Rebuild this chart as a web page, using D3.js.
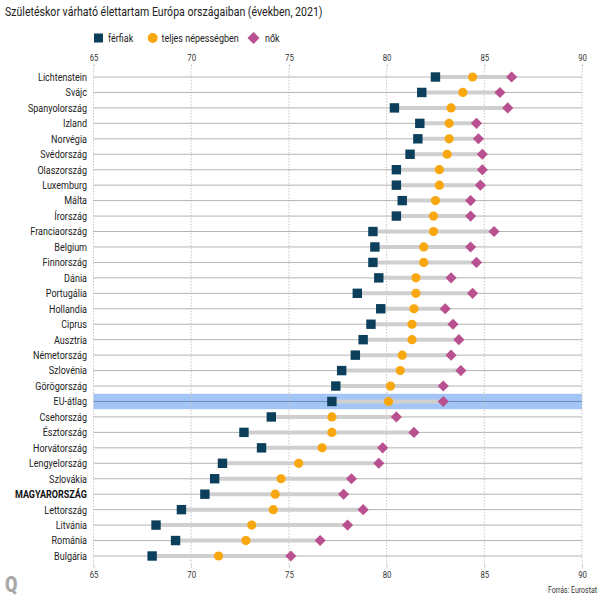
<!DOCTYPE html>
<html><head><meta charset="utf-8">
<script src="https://cdn.jsdelivr.net/npm/d3@7"></script>
<style>body{margin:0;background:#fff} text{font-family:Roboto,"Noto Sans",sans-serif}</style>
</head><body>
<svg id="c" width="600" height="600"></svg>
<script>
const countries = ["Lichtenstein","Svájc","Spanyolország","Izland","Norvégia","Svédország","Olaszország","Luxemburg","Málta","Írország","Franciaország","Belgium","Finnország","Dánia","Portugália","Hollandia","Ciprus","Ausztria","Németország","Szlovénia","Görögország","EU-átlag","Csehország","Észtország","Horvátország","Lengyelország","Szlovákia","MAGYARORSZÁG","Lettország","Litvánia","Románia","Bulgária"];
const men   = [82.5,81.8,80.4,81.7,81.6,81.2,80.5,80.5,80.8,80.5,79.3,79.4,79.3,79.6,78.5,79.7,79.2,78.8,78.4,77.7,77.4,77.2,74.1,72.7,73.6,71.6,71.2,70.7,69.5,68.2,69.2,68.0];
const total = [84.4,83.9,83.3,83.2,83.2,83.1,82.7,82.7,82.5,82.4,82.4,81.9,81.9,81.5,81.5,81.4,81.3,81.3,80.8,80.7,80.2,80.1,77.2,77.2,76.7,75.5,74.6,74.3,74.2,73.1,72.8,71.4];
const women = [86.4,85.8,86.2,84.6,84.7,84.9,84.9,84.8,84.3,84.3,85.5,84.3,84.6,83.3,84.4,83.0,83.4,83.7,83.3,83.8,82.9,82.9,80.5,81.4,79.8,79.6,78.2,77.8,78.8,78.0,76.6,75.1];
const xTicks = [65,70,75,80,85,90];
const seriesNames = ["férfiak","teljes népességben","nők"];
const title = "Születéskor várható élettartam Európa országaiban (években, 2021)";
const source = "Forrás: Eurostat";
const euLabel = "EU-átlag";
const boldLabel = "MAGYARORSZÁG";

const C_MEN = "#0b3f5c", C_TOT = "#f9a70f", C_WOM = "#b9508f";
const SX = 0.82;
const svg = d3.select("#c");
const x = d3.scaleLinear().domain([65,90]).range([93.5,582]);
const y = d3.scalePoint().domain(countries).range([77,556]);
const step = y.step();

function ctext(g, str, px, py, size, anchor, opts={}) {
  const t = g.append("g").attr("transform",`translate(${px},${py}) scale(${SX},1)`)
    .append("text").attr("text-anchor",anchor).attr("font-size",size)
    .attr("fill",opts.fill||"#222").attr("font-weight",opts.weight||400).text(str);
  if (opts.dy) t.attr("dy",opts.dy);
  return t;
}

// title
ctext(svg, title, 5, 16, 12.9, "start", {fill:"#222"});

// legend
const lg = svg.append("g");
lg.append("rect").attr("x",94).attr("y",33.5).attr("width",9).attr("height",9).attr("fill",C_MEN);
ctext(lg, seriesNames[0], 108, 38, 11, "start", {dy:"0.35em"});
lg.append("circle").attr("cx",152.7).attr("cy",38).attr("r",5).attr("fill",C_TOT);
ctext(lg, seriesNames[1], 161.5, 38, 11, "start", {dy:"0.35em"});
lg.append("path").attr("d",d3.symbol(d3.symbolSquare,72)()).attr("transform","translate(253.5,38) rotate(45)").attr("fill",C_WOM);
ctext(lg, seriesNames[2], 265, 38, 11, "start", {dy:"0.35em"});

// EU band
svg.append("rect").attr("x",x(65)).attr("width",x(90)-x(65))
  .attr("y",y(euLabel)-step/2).attr("height",step).attr("fill","#a3c5f6");

// grid
const grid = svg.append("g");
xTicks.forEach(v=>{
  grid.append("line").attr("x1",x(v)).attr("x2",x(v)).attr("y1",68).attr("y2",566)
    .attr("stroke","#c8c8c8").attr("stroke-width",1).attr("stroke-dasharray","1.5,1.5");
});

// axes
const axT = svg.append("g").attr("transform","translate(0,67)")
  .call(d3.axisTop(x).tickValues(xTicks).tickSize(3).tickPadding(3));
const axB = svg.append("g").attr("transform","translate(0,565)")
  .call(d3.axisBottom(x).tickValues(xTicks).tickSize(3).tickPadding(3));
[axT,axB].forEach(a=>{
  a.select(".domain").remove();
  a.selectAll(".tick line").attr("stroke","#ccc");
  a.selectAll(".tick text").attr("font-size",9.5).attr("fill","#333")
    .attr("font-family","Roboto,sans-serif")
    .attr("transform",`scale(${SX},1)`);
});

// row lines
svg.append("g").selectAll("line").data(countries).join("line")
  .attr("x1",x(65)).attr("x2",x(90)).attr("y1",d=>y(d)).attr("y2",d=>y(d))
  .attr("stroke",d=>d===euLabel?"#6e8cb3":"#b4b4b4").attr("stroke-width",1);

// connecting bars
svg.append("g").selectAll("line").data(countries).join("line")
  .attr("x1",(d,i)=>x(Math.min(men[i],women[i]))).attr("x2",(d,i)=>x(Math.max(men[i],women[i])))
  .attr("y1",d=>y(d)).attr("y2",d=>y(d))
  .attr("stroke","#cfcfcf").attr("stroke-width",4);

// labels
const lab = svg.append("g");
countries.forEach(c=>{
  ctext(lab, c, 87, y(c), 11, "end", {dy:"0.35em", weight: c===boldLabel?700:400, fill: c===boldLabel?"#111":"#222"});
});

// markers
svg.append("g").selectAll("rect").data(countries).join("rect")
  .attr("x",(d,i)=>x(men[i])-4.7).attr("y",d=>y(d)-4.7).attr("width",9.4).attr("height",9.4)
  .attr("fill",C_MEN);
svg.append("g").selectAll("circle").data(countries).join("circle")
  .attr("cx",(d,i)=>x(total[i])).attr("cy",d=>y(d)).attr("r",4.6).attr("fill",C_TOT);
svg.append("g").selectAll("path").data(countries).join("path")
  .attr("d",d3.symbol(d3.symbolSquare,62)())
  .attr("transform",(d,i)=>`translate(${x(women[i])},${y(d)}) rotate(45)`)
  .attr("fill",C_WOM);

// footer
ctext(svg, "Q", 5, 592, 22, "start", {fill:"#a8a8a8", weight:900});
ctext(svg, source, 597, 593, 8.5, "end", {fill:"#333"});
</script>
</body></html>
